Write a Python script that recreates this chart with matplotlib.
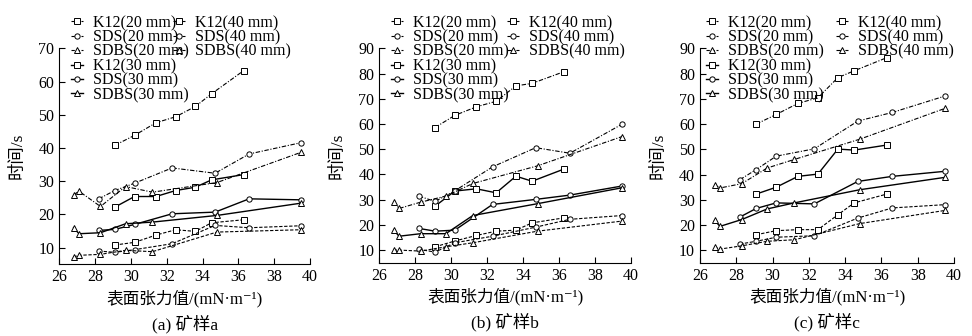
import matplotlib
matplotlib.use("Agg")
import matplotlib.pyplot as plt

plt.rcParams['font.family'] = ['Liberation Serif', 'Noto Sans CJK SC', 'DejaVu Serif']

# surface tension (mN/m) of each surfactant solution
x_k12 = [29.1, 30.2, 31.4, 32.5, 33.6, 34.5, 36.3]
x_sds = [28.2, 29.1, 30.2, 32.3, 34.7, 36.6, 39.5]
x_sdbs = [26.8, 27.1, 28.3, 29.7, 31.2, 34.8, 39.5]

# sample a
a_k12_20 = [10.8, 11.6, 13.8, 15.4, 14.9, 17.5, 18.4]
a_k12_30 = [22.2, 25.4, 25.4, 27.2, 28.2, 30.4, 32.0]
a_k12_40 = [40.8, 43.8, 47.6, 49.4, 52.5, 56.3, 63.3]
a_sds_20 = [9.0, 8.6, 9.4, 11.2, 16.7, 16.0, 16.6]
a_sds_30 = [15.2, 15.5, 17.0, 20.2, 20.7, 24.7, 24.4]
a_sds_40 = [24.7, 27.2, 29.4, 34.0, 32.4, 38.2, 41.6]
a_sdbs_20 = [7.2, 7.7, 8.0, 9.2, 8.8, 14.7, 15.4]
a_sdbs_30 = [16.0, 14.2, 14.5, 17.2, 17.7, 19.7, 23.4]
a_sdbs_40 = [25.9, 27.0, 22.4, 28.4, 26.7, 29.6, 38.7]

# sample b
b_k12_20 = [11.3, 13.6, 15.8, 17.5, 17.9, 20.8, 22.8]
b_k12_30 = [27.4, 33.4, 34.3, 32.7, 39.3, 37.3, 42.2]
b_k12_40 = [58.6, 63.4, 66.8, 69.0, 75.1, 76.1, 80.8]
b_sds_20 = [10.3, 9.2, 12.9, 15.5, 19.1, 22.2, 23.7]
b_sds_30 = [18.6, 17.5, 17.9, 28.1, 30.1, 31.8, 35.4]
b_sds_40 = [31.4, 29.3, 33.5, 43.0, 50.6, 48.4, 59.9]
b_sdbs_20 = [10.0, 10.0, 9.6, 11.3, 12.9, 17.5, 21.5]
b_sdbs_30 = [17.9, 15.5, 16.5, 16.5, 23.7, 28.4, 34.7]
b_sdbs_40 = [29.2, 26.5, 29.0, 31.4, 36.4, 43.4, 55.0]

# sample c
c_k12_20 = [16.2, 17.8, 18.2, 18.2, 24.1, 28.8, 32.3]
c_k12_30 = [32.3, 35.0, 39.3, 40.2, 50.1, 49.7, 51.7]
c_k12_40 = [60.0, 63.8, 68.2, 70.4, 78.4, 81.1, 86.3]
c_sds_20 = [12.5, 13.6, 15.2, 15.8, 22.8, 26.8, 28.1]
c_sds_30 = [23.2, 26.6, 28.8, 28.4, 37.3, 39.3, 41.3]
c_sds_40 = [38.0, 42.0, 47.3, 50.2, 61.2, 64.6, 71.1]
c_sdbs_20 = [11.3, 10.5, 11.8, 13.6, 14.2, 20.6, 25.8]
c_sdbs_30 = [21.9, 19.5, 22.2, 26.4, 28.8, 34.0, 38.9]
c_sdbs_40 = [36.0, 34.7, 36.4, 42.6, 46.0, 54.0, 66.2]

thick = ['20 mm', '30 mm', '40 mm']
agents = ['K12', 'SDS', 'SDBS']
panel_titles = ['(a) 矿样a', '(b) 矿样b', '(c) 矿样c']
y_tops = [70, 90, 90]

panels = [
    {'K12': [a_k12_20, a_k12_30, a_k12_40], 'SDS': [a_sds_20, a_sds_30, a_sds_40],
     'SDBS': [a_sdbs_20, a_sdbs_30, a_sdbs_40]},
    {'K12': [b_k12_20, b_k12_30, b_k12_40], 'SDS': [b_sds_20, b_sds_30, b_sds_40],
     'SDBS': [b_sdbs_20, b_sdbs_30, b_sdbs_40]},
    {'K12': [c_k12_20, c_k12_30, c_k12_40], 'SDS': [c_sds_20, c_sds_30, c_sds_40],
     'SDBS': [c_sdbs_20, c_sdbs_30, c_sdbs_40]},
]
xs = {'K12': x_k12, 'SDS': x_sds, 'SDBS': x_sdbs}
markers = {'K12': 's', 'SDS': 'o', 'SDBS': '^'}
styles = [(0, (3, 1.5)), '-', (0, (4, 1.5, 1, 1.5))]
widths = [0.8, 1.0, 0.8]

# axes rectangles in figure pixels (left, right, bottom, top)
boxes = [(59.3, 310, 264.3, 48.3), (379.3, 631, 262.7, 48.3), (700, 954, 263, 48.3)]
# left edge of the legend handles, pixels
leg1_x = [70.5, 390.5, 705.5]
leg2_x = [172.5, 506.5, 835.5]

W, H = 972, 336
fig = plt.figure(figsize=(W / 100, H / 100), dpi=100)

for i, data in enumerate(panels):
    l, r, b, t = boxes[i]
    ax = fig.add_axes([l / W, 1 - b / H, (r - l) / W, (b - t) / H])
    handles = {}
    for ag in agents:
        for k, th in enumerate(thick):
            ln, = ax.plot(xs[ag], data[ag][k], color='black', linestyle=styles[k],
                          lw=widths[k], marker=markers[ag], ms=3.8, mfc='white',
                          mec='black', mew=0.7, label=f'{ag}({th})')
            handles[(ag, k)] = ln

    ax.set_xlim(26, 40)
    ax.set_ylim(5, y_tops[i])
    ax.set_xticks(range(26, 41, 2))
    ax.set_yticks(range(10, y_tops[i] + 1, 10))
    ax.spines['top'].set_visible(False)
    ax.spines['right'].set_visible(False)
    ax.tick_params(direction='in', labelsize=11.5, length=4, width=0.8)
    ax.set_xlabel('表面张力值/(mN·m⁻¹)', fontsize=12, labelpad=3)
    ax.set_ylabel('时间/s', fontsize=12.5, labelpad=9)
    ax.text(0.5, -0.275, panel_titles[i], transform=ax.transAxes, ha='center',
            va='center', fontsize=12.5)

    # legend split in two columns: 20/30 mm on the left, 40 mm on the right
    col1 = [handles[(ag, k)] for k in (0, 1) for ag in agents]
    col2 = [handles[(ag, 2)] for ag in agents]
    leg_kw = dict(loc='upper left', frameon=False, bbox_transform=fig.transFigure,
                  fontsize=11.5, borderpad=0, borderaxespad=0, handlelength=0.8,
                  handletextpad=0.6, labelspacing=-0.1)
    leg = ax.legend(handles=col1, bbox_to_anchor=(leg1_x[i] / W, 1 - 15 / H), **leg_kw)
    ax.add_artist(leg)
    ax.legend(handles=col2, bbox_to_anchor=(leg2_x[i] / W, 1 - 15 / H), **leg_kw)

fig.savefig('out.png', dpi=100)
